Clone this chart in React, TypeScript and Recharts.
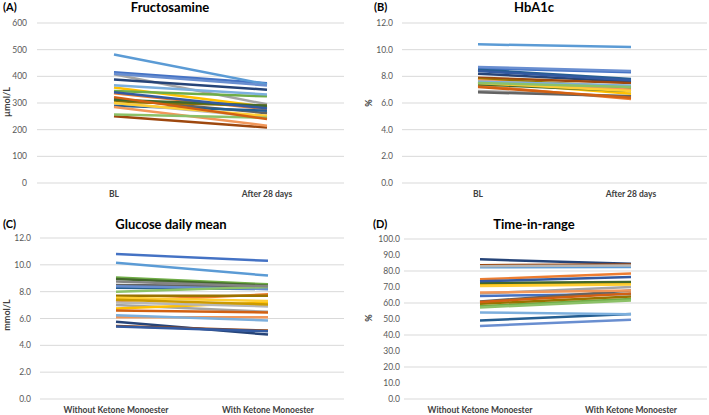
import React from 'react';
import { LineChart, Line, XAxis, YAxis, CartesianGrid } from 'recharts';

// categories
const visitCategories = ['BL', 'After 28 days'];
const ketoneCategories = ['Without Ketone Monoester', 'With Ketone Monoester'];

// (A) fructosamine, µmol/L
const fructosamineBL = [415, 337, 408, 358, 482, 345, 388, 250, 315, 305, 290, 312, 410, 285, 300, 300, 367, 257, 340, 322];
const fructosamineDay28 = [374, 277, 295, 285, 370, 325, 350, 208, 262, 290, 271, 290, 366, 215, 246, 252, 332, 245, 280, 240];

// (B) HbA1c, %
const hba1cBL = [8.6, 7.3, 6.9, 7.6, 10.4, 7.5, 8.2, 7.9, 6.8, 7.8, 8.5, 7.4, 8.7, 7.7, 7.6, 7.5, 7.6, 7.5, 8.4, 7.2];
const hba1cDay28 = [8.3, 6.3, 6.5, 6.7, 10.2, 7.1, 7.6, 7.5, 6.5, 7.2, 7.8, 6.9, 8.4, 7.0, 7.3, 6.9, 7.3, 7.2, 7.7, 6.4];

// (C) glucose daily mean, mmol/L
const glucoseWithout = [10.8, 7.3, 7.0, 6.75, 10.15, 9.05, 5.75, 5.45, 8.5, 7.7, 8.3, 8.95, 8.4, 6.1, 7.2, 7.55, 6.25, 8.0, 5.4, 6.6, 8.75, 7.4];
const glucoseWith = [10.3, 7.8, 6.5, 7.2, 9.2, 8.55, 4.8, 5.1, 8.4, 7.7, 8.2, 8.45, 8.2, 6.1, 6.9, 7.3, 5.85, 8.35, 5.05, 6.45, 8.4, 7.05];

// (D) time-in-range, %
const tirWithout = [64.4, 74.8, 66.0, 71.5, 82.3, 58.0, 87.3, 83.6, 61.0, 59.5, 49.0, 72.5, 45.7, 66.5, 83.0, 70.7, 54.1, 57.2, 73.6, 60.7];
const tirWith = [65.7, 78.4, 70.0, 72.0, 82.5, 62.5, 84.5, 84.0, 67.8, 64.0, 53.2, 73.2, 49.5, 67.8, 83.5, 71.5, 53.0, 61.5, 76.3, 66.0];

// tick labels
const fructosamineTicks = [0, 100, 200, 300, 400, 500, 600];
const twelveTicks = [0, 2, 4, 6, 8, 10, 12];
const tirTicks = [0, 10, 20, 30, 40, 50, 60, 70, 80, 90, 100];

const excelColors = [
  '#4472C4', '#ED7D31', '#A5A5A5', '#FFC000', '#5B9BD5', '#70AD47',
  '#264478', '#9E480E', '#636363', '#997300', '#255E91', '#43682B',
  '#698ED0', '#F1975A', '#B7B7B7', '#FFCD33', '#7CAFDD', '#8CC168',
  '#335AA1', '#D26012', '#848484', '#CC9A00',
];

const FONT = 'Lato, "Liberation Sans", sans-serif';

function buildRows(categories: string[], first: number[], second: number[]) {
  return categories.map((cat, i) => {
    const row: Record<string, string | number> = { cat };
    first.forEach((v, k) => {
      row[`p${k}`] = i === 0 ? v : second[k];
    });
    return row;
  });
}

interface PanelProps {
  left: number;
  top: number;
  width: number;
  height: number;
  marginTop: number;
  marginRight: number;
  yWidth: number;
  xHeight: number;
  yTickSize: number;
  xPad: number;
  categories: string[];
  first: number[];
  second: number[];
  ticks: number[];
  decimals: number;
  tag: string;
  tagX: number;
  title: string;
  titleX: number;
  titleY: number;
  yLabel: string;
  yLabelX: number;
  yLabelY: number;
}

function Panel(p: PanelProps) {
  const rows = buildRows(p.categories, p.first, p.second);
  return (
    <div style={{ position: 'absolute', left: p.left, top: p.top, width: p.width, height: p.height }}>
      <LineChart
        width={p.width}
        height={p.height}
        data={rows}
        margin={{ top: p.marginTop, right: p.marginRight, left: 0, bottom: 0 }}
      >
        <CartesianGrid vertical={false} stroke="#d9d9d9" strokeWidth={1} />
        <XAxis
          dataKey="cat"
          height={p.xHeight}
          axisLine={false}
          tickLine={false}
          padding={{ left: p.xPad, right: p.xPad }}
          tick={{ fill: '#404040', fontSize: 8.5, fontWeight: 700, fontFamily: FONT }}
          interval={0}
        />
        <YAxis
          width={p.yWidth}
          domain={[p.ticks[0], p.ticks[p.ticks.length - 1]]}
          ticks={p.ticks}
          axisLine={false}
          tickLine={false}
          tickSize={p.yTickSize}
          tickFormatter={(v: number) => v.toFixed(p.decimals)}
          tick={{ fill: '#595959', fontSize: 8.5, fontFamily: FONT }}
        />
        {p.first.map((_, k) => (
          <Line
            key={k}
            dataKey={`p${k}`}
            stroke={excelColors[k % excelColors.length]}
            strokeWidth={2.5}
            dot={false}
            isAnimationActive={false}
          />
        ))}
      </LineChart>
      <div style={{ position: 'absolute', left: p.tagX, top: p.titleY - 7, fontFamily: FONT, fontWeight: 700, fontSize: 11, lineHeight: '14px', color: '#000' }}>
        {p.tag}
      </div>
      <div style={{ position: 'absolute', left: p.titleX - 100, width: 200, top: p.titleY - 8, textAlign: 'center', fontFamily: FONT, fontWeight: 700, fontSize: 13, lineHeight: '16px', color: '#000' }}>
        {p.title}
      </div>
      <div style={{ position: 'absolute', left: p.yLabelX, top: p.yLabelY, transform: 'translate(-50%, -50%) rotate(-90deg)', fontFamily: FONT, fontWeight: 700, fontSize: 9, whiteSpace: 'nowrap', color: '#404040' }}>
        {p.yLabel}
      </div>
    </div>
  );
}

export default function App() {
  return (
    <div style={{ position: 'absolute', left: 0, top: 0, width: 709, height: 415, background: '#fff', overflow: 'hidden' }}>
      <Panel
        left={0} top={0} width={354} height={205}
        marginTop={23} marginRight={10} yWidth={37} xHeight={22} yTickSize={8} xPad={77}
        categories={visitCategories} first={fructosamineBL} second={fructosamineDay28}
        ticks={fructosamineTicks} decimals={0}
        tag="(A)" tagX={3} title="Fructosamine" titleX={170} titleY={7}
        yLabel="µmol/L" yLabelX={6} yLabelY={102}
      />
      <Panel
        left={354} top={0} width={355} height={205}
        marginTop={23} marginRight={2} yWidth={48} xHeight={22} yTickSize={7} xPad={76}
        categories={visitCategories} first={hba1cBL} second={hba1cDay28}
        ticks={twelveTicks} decimals={1}
        tag="(B)" tagX={20} title="HbA1c" titleX={180} titleY={7}
        yLabel="%" yLabelX={14} yLabelY={103}
      />
      <Panel
        left={0} top={205} width={354} height={210}
        marginTop={33} marginRight={10} yWidth={40} xHeight={16} yTickSize={7} xPad={76}
        categories={ketoneCategories} first={glucoseWithout} second={glucoseWith}
        ticks={twelveTicks} decimals={1}
        tag="(C)" tagX={3} title="Glucose daily mean" titleX={171} titleY={19}
        yLabel="mmol/L" yLabelX={6} yLabelY={110}
      />
      <Panel
        left={354} top={205} width={355} height={210}
        marginTop={34} marginRight={2} yWidth={50} xHeight={16} yTickSize={2} xPad={76}
        categories={ketoneCategories} first={tirWithout} second={tirWith}
        ticks={tirTicks} decimals={1}
        tag="(D)" tagX={19} title="Time-in-range" titleX={180} titleY={19}
        yLabel="%" yLabelX={14} yLabelY={113}
      />
    </div>
  );
}
